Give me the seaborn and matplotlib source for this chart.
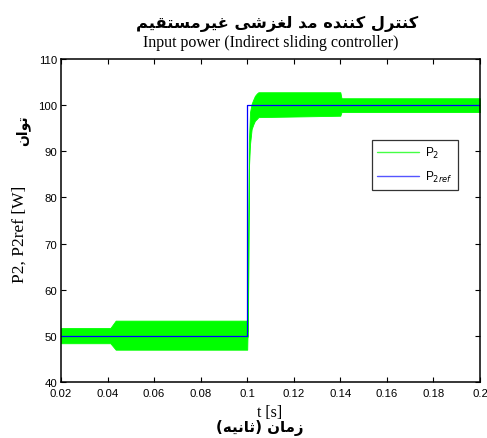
import numpy as np
import pandas as pd
import seaborn as sns
import matplotlib.pyplot as plt
from matplotlib.lines import Line2D

# Reference power (step at t = 0.1 s)
t_ref = [0.02, 0.1, 0.2]
p_ref = [50, 100, 100]

t_env = [0.02, 0.0412, 0.0435, 0.1, 0.1001, 0.1003, 0.1007, 0.1012, 0.1019,
         0.1026, 0.1033, 0.1041, 0.1048, 0.14, 0.1405, 0.2]
p2_upper = [51.7, 51.7, 53.3, 53.3, 51.0, 52.0, 92.0, 98.5, 100.3,
            101.2, 102.0, 102.5, 102.8, 102.8, 101.5, 101.5]
p2_lower = [48.4, 48.4, 47.0, 47.0, 49.5, 50.0, 86.0, 91.5, 94.8,
            95.8, 96.6, 97.0, 97.4, 97.7, 98.5, 98.5]

x_ticks = [0.02, 0.04, 0.06, 0.08, 0.1, 0.12, 0.14, 0.16, 0.18, 0.2]
x_labels = ['0.02', '0.04', '0.06', '0.08', '0.1', '0.12', '0.14', '0.16', '0.18', '0.2']
y_ticks = [40, 50, 60, 70, 80, 90, 100, 110]

title_fa = 'کنترل کننده مد لغزشی غیرمستقیم'
xlabel_fa = 'زمان (ثانیه)'
ylabel_fa = 'توان'

# matplotlib does no Arabic shaping, so pick presentation forms by hand
FORMS = {
    'ا': ('\uFE8D', '\uFE8E', None, None),
    'ت': ('\uFE95', '\uFE96', '\uFE97', '\uFE98'),
    'ث': ('\uFE99', '\uFE9A', '\uFE9B', '\uFE9C'),
    'د': ('\uFEA9', '\uFEAA', None, None),
    'ر': ('\uFEAD', '\uFEAE', None, None),
    'ز': ('\uFEAF', '\uFEB0', None, None),
    'س': ('\uFEB1', '\uFEB2', '\uFEB3', '\uFEB4'),
    'ش': ('\uFEB5', '\uFEB6', '\uFEB7', '\uFEB8'),
    'غ': ('\uFECD', '\uFECE', '\uFECF', '\uFED0'),
    'ق': ('\uFED5', '\uFED6', '\uFED7', '\uFED8'),
    'ل': ('\uFEDD', '\uFEDE', '\uFEDF', '\uFEE0'),
    'م': ('\uFEE1', '\uFEE2', '\uFEE3', '\uFEE4'),
    'ن': ('\uFEE5', '\uFEE6', '\uFEE7', '\uFEE8'),
    'ه': ('\uFEE9', '\uFEEA', '\uFEEB', '\uFEEC'),
    'و': ('\uFEED', '\uFEEE', None, None),
    'ک': ('\uFB8E', '\uFB8F', '\uFB90', '\uFB91'),
    'ی': ('\uFBFC', '\uFBFD', '\uFBFE', '\uFBFF'),
}


def shape(s):
    out = []
    for i, c in enumerate(s):
        if c not in FORMS:
            out.append(c)
            continue
        f = FORMS[c]
        prev = s[i - 1] if i > 0 else ''
        nxt = s[i + 1] if i + 1 < len(s) else ''
        jp = prev in FORMS and FORMS[prev][2] is not None
        jn = f[2] is not None and nxt in FORMS
        if jp and jn:
            out.append(f[3])
        elif jp:
            out.append(f[1])
        elif jn:
            out.append(f[2])
        else:
            out.append(f[0])
    mirror = {'(': ')', ')': '('}
    return ''.join(mirror.get(c, c) for c in reversed(out))


sns.set_style('ticks')
plt.rcParams['font.family'] = ['Liberation Sans', 'DejaVu Sans']
plt.rcParams['text.color'] = 'black'

fig = plt.figure(figsize=(4.87, 4.39), dpi=100)
ax = fig.add_axes([61 / 487, 1 - 383 / 439, 419 / 487, 323 / 439])

df_env = pd.DataFrame({'t': t_env, 'up': p2_upper, 'lo': p2_lower})
ax.fill_between(df_env['t'], df_env['lo'], df_env['up'], color='#00ff00', linewidth=0.6,
                edgecolor='#00ff00')

df_ref = pd.DataFrame({'t': t_ref, 'p': p_ref})
sns.lineplot(data=df_ref, x='t', y='p', ax=ax, color='#0000ff', linewidth=0.9,
             drawstyle='steps-post')

ax.set_xlim(0.02, 0.2)
ax.set_ylim(40, 110)
ax.set_xticks(x_ticks)
ax.set_xticklabels(x_labels)
ax.set_yticks(y_ticks)
ax.set_xlabel('')
ax.set_ylabel('')
ax.tick_params(direction='in', length=3.5, width=0.8, labelsize=8.2, pad=2.5,
               top=True, right=True, colors='black')
ax.tick_params(axis='x', pad=4)
for sp in ax.spines.values():
    sp.set_linewidth(1.1)
    sp.set_color('black')

handles = [Line2D([], [], color='#44ff44', linewidth=1.0),
           Line2D([], [], color='#5555ff', linewidth=1.0)]
leg = ax.legend(handles, ['P$_2$', 'P$_{2ref}$'], loc='upper right',
                bbox_to_anchor=(0.962, 0.768), fontsize=8.5, handlelength=3.6,
                frameon=True, fancybox=False, borderpad=0.45, labelspacing=0.75,
                handletextpad=0.5)
leg.get_frame().set_edgecolor('black')
leg.get_frame().set_linewidth(0.9)

fig.text(277 / 487, 1 - 24 / 439, shape(title_fa), ha='center', va='center',
         fontsize=11.7, fontweight='bold', family='DejaVu Sans')
fig.text(271 / 487, 1 - 43 / 439, 'Input power (Indirect sliding controller)',
         ha='center', va='center', fontsize=11.5, family='Liberation Serif')
fig.text(270 / 487, 1 - 413 / 439, 't [s]', ha='center', va='center',
         fontsize=11.5, family='Liberation Serif')
fig.text(260 / 487, 1 - 428 / 439, shape(xlabel_fa), ha='center', va='center',
         fontsize=10.8, fontweight='bold', family='DejaVu Sans')
fig.text(20 / 487, 1 - 234 / 439, 'P2, P2ref [W]', ha='center', va='center',
         rotation=90, fontsize=12.5, family='Liberation Serif')
fig.text(23 / 487, 1 - 131 / 439, shape(ylabel_fa), ha='center', va='center',
         rotation=90, fontsize=10, fontweight='bold', family='DejaVu Sans')

fig.savefig('out.png', dpi=100)
